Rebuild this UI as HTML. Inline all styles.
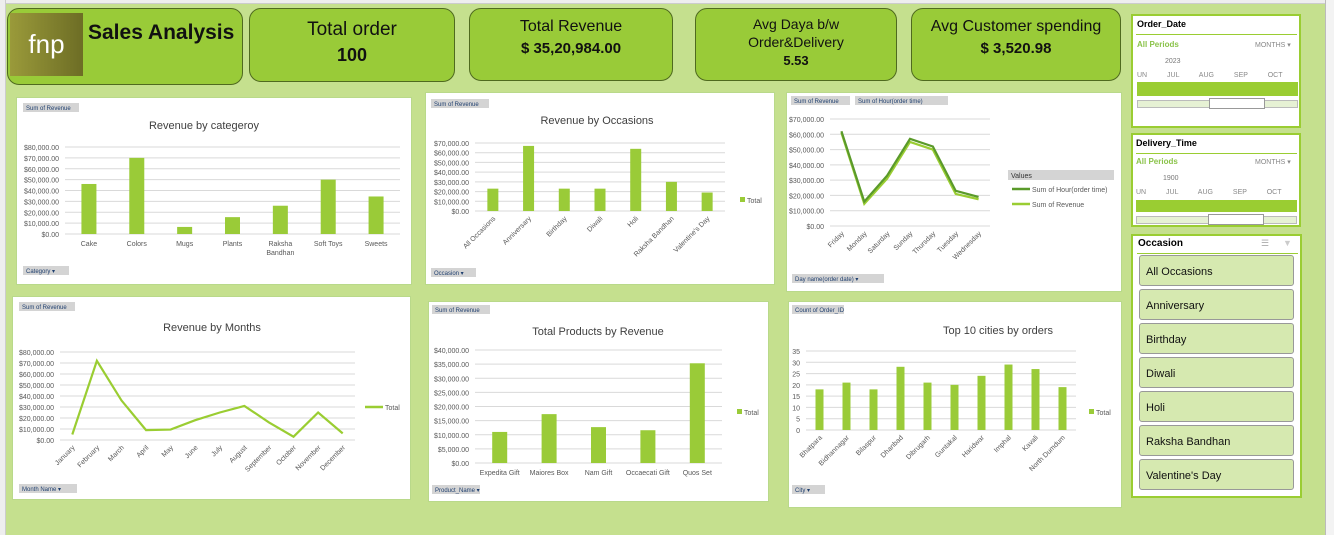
<!DOCTYPE html>
<html><head><meta charset="utf-8">
<style>
*{box-sizing:border-box;margin:0;padding:0}
body{width:1334px;height:535px;overflow:hidden;background:#c5e08e;font-family:"Liberation Sans",sans-serif;position:relative}
.card{position:absolute;background:#99cb38;border:1px solid #4f6a1f;border-radius:12px;text-align:center;color:#111}
.panel{position:absolute;background:#fff;border:1px solid #b9d98a}
.slicer{position:absolute;background:#fff;border:2px solid #9acd32}
.btn{position:absolute;left:6px;width:155px;height:31px;background:#d6e9b0;border:1px solid #999;border-radius:3px;font-size:11px;padding:10px 0 0 6px;color:#111}
</style></head><body>
<div style="position:absolute;left:0;top:0;width:1334px;height:4px;background:#eee;border-bottom:1px solid #ccc"></div>
<div style="position:absolute;left:0;top:0;width:6px;height:535px;background:#eee;border-right:1px solid #ccc"></div>
<div style="position:absolute;left:1325px;top:0;width:9px;height:535px;background:#f3f3f3;border-left:1px solid #bbb"></div>

<div class="card" style="left:7px;top:8px;width:236px;height:77px">
 <div style="position:absolute;left:2px;top:4px;width:73px;height:63px;background:linear-gradient(90deg,#9a9a3a,#6d6d25);color:#fff;font-size:26px;padding-top:16px">fnp</div>
 <div style="position:absolute;left:80px;top:12px;font-size:21px;font-weight:bold">Sales Analysis</div>
</div>
<div class="card" style="left:249px;top:8px;width:206px;height:74px"><div style="font-size:19px;margin-top:10px">Total order</div><div style="font-size:18px;font-weight:bold;margin-top:4px">100</div></div>
<div class="card" style="left:469px;top:8px;width:204px;height:73px"><div style="font-size:16px;margin-top:9px">Total Revenue</div><div style="font-size:15px;font-weight:bold;margin-top:4px">$ 35,20,984.00</div></div>
<div class="card" style="left:695px;top:8px;width:202px;height:73px"><div style="font-size:14px;margin-top:6px;line-height:18px">Avg Daya b/w<br>Order&amp;Delivery</div><div style="font-size:13px;font-weight:bold;margin-top:2px">5.53</div></div>
<div class="card" style="left:911px;top:8px;width:210px;height:73px"><div style="font-size:16px;margin-top:9px">Avg Customer spending</div><div style="font-size:15px;font-weight:bold;margin-top:4px">$ 3,520.98</div></div>

<div class="panel" style="left:16px;top:97px;width:396px;height:188px"></div>
<div class="panel" style="left:425px;top:92px;width:350px;height:193px"></div>
<div class="panel" style="left:786px;top:92px;width:336px;height:200px"></div>
<div class="panel" style="left:12px;top:296px;width:399px;height:204px"></div>
<div class="panel" style="left:428px;top:301px;width:341px;height:201px"></div>
<div class="panel" style="left:788px;top:301px;width:334px;height:207px"></div>

<div class="slicer" style="left:1131px;top:14px;width:170px;height:114px">
 <div style="position:absolute;left:4px;top:3px;font-size:9px;font-weight:bold">Order_Date</div>
 <div style="position:absolute;left:3px;top:18px;width:161px;border-top:1px solid #9acd32"></div>
 <div style="position:absolute;left:4px;top:24px;font-size:8px;color:#8bc34a;font-weight:bold">All Periods</div>
 <div style="position:absolute;left:122px;top:25px;font-size:7px;color:#888">MONTHS ▾</div>
 <div style="position:absolute;left:32px;top:42px;font-size:7px;color:#777">2023</div>
 <div style="position:absolute;left:4px;top:56px;font-size:7px;color:#888;word-spacing:18px">UN JUL AUG SEP OCT</div>
 <div style="position:absolute;left:4px;top:66px;width:161px;height:14px;background:#9acd32"></div>
 <div style="position:absolute;left:4px;top:84px;width:161px;height:8px;background:#e6f1d4;border:1px solid #bbb"></div>
 <div style="position:absolute;left:76px;top:82px;width:56px;height:11px;background:#fff;border:1px solid #999"></div>
</div>
<div class="slicer" style="left:1131px;top:133px;width:170px;height:94px">
 <div style="position:absolute;left:3px;top:3px;font-size:9px;font-weight:bold">Delivery_Time</div>
 <div style="position:absolute;left:3px;top:18px;width:161px;border-top:1px solid #9acd32"></div>
 <div style="position:absolute;left:3px;top:22px;font-size:8px;color:#8bc34a;font-weight:bold">All Periods</div>
 <div style="position:absolute;left:122px;top:23px;font-size:7px;color:#888">MONTHS ▾</div>
 <div style="position:absolute;left:30px;top:40px;font-size:7px;color:#777">1900</div>
 <div style="position:absolute;left:3px;top:54px;font-size:7px;color:#888;word-spacing:18px">UN JUL AUG SEP OCT</div>
 <div style="position:absolute;left:3px;top:65px;width:161px;height:12px;background:#9acd32"></div>
 <div style="position:absolute;left:3px;top:81px;width:161px;height:8px;background:#e6f1d4;border:1px solid #bbb"></div>
 <div style="position:absolute;left:75px;top:79px;width:56px;height:11px;background:#fff;border:1px solid #999"></div>
</div>
<div class="slicer" style="left:1131px;top:234px;width:171px;height:264px">
 <div style="position:absolute;left:5px;top:2px;font-size:10px;font-weight:bold">Occasion</div>
 <div style="position:absolute;left:128px;top:2px;font-size:9px;color:#aaa">☰</div>
 <div style="position:absolute;left:150px;top:2px;font-size:9px;color:#ccc">▼</div>
 <div style="position:absolute;left:4px;top:17px;width:161px;border-top:1px solid #9acd32"></div>
 <div class="btn" style="top:19px">All Occasions</div>
 <div class="btn" style="top:53px">Anniversary</div>
 <div class="btn" style="top:87px">Birthday</div>
 <div class="btn" style="top:121px">Diwali</div>
 <div class="btn" style="top:155px">Holi</div>
 <div class="btn" style="top:189px">Raksha Bandhan</div>
 <div class="btn" style="top:223px">Valentine's Day</div>
</div>

<svg id="charts" width="1334" height="535" style="position:absolute;left:0;top:0" font-family="Liberation Sans, sans-serif"></svg>

<script>
// Chart 1
const catLabels = ["Cake","Colors","Mugs","Plants","Raksha Bandhan","Soft Toys","Sweets"];
const catValues = [46000,70000,6500,15500,26000,50000,34500];
const catTicks = [0,10000,20000,30000,40000,50000,60000,70000,80000];
// Chart 2
const occLabels = ["All Occasions","Anniversary","Birthday","Diwali","Holi","Raksha Bandhan","Valentine's Day"];
const occValues = [23000,67000,23000,23000,64000,30000,19000];
const occTicks = [0,10000,20000,30000,40000,50000,60000,70000];
// Chart 3
const dayLabels = ["Friday","Monday","Saturday","Sunday","Thursday","Tuesday","Wednesday"];
const dayHour = [62000,16000,33000,57000,52000,23000,19000];
const dayRevenue = [61000,14500,31000,55000,50000,21000,17500];
const dayTicks = [0,10000,20000,30000,40000,50000,60000,70000];
// Chart 4
const monLabels = ["January","February","March","April","May","June","July","August","September","October","November","December"];
const monValues = [5000,72000,36000,9000,9500,18000,25000,31000,16000,3000,25000,6000];
const monTicks = [0,10000,20000,30000,40000,50000,60000,70000,80000];
// Chart 5
const prodLabels = ["Expedita Gift","Maiores Box","Nam Gift","Occaecati Gift","Quos Set"];
const prodValues = [11000,17300,12700,11600,35300];
const prodTicks = [0,5000,10000,15000,20000,25000,30000,35000,40000];
// Chart 6
const cityLabels = ["Bhatpara","Bidhannagar","Bilaspur","Dhanbad","Dibrugarh","Guntakal","Haridwar","Imphal","Kavali","North Dumdum"];
const cityValues = [18,21,18,28,21,20,24,29,27,19];
const cityTicks = [0,5,10,15,20,25,30,35];

const svg = document.getElementById('charts');
const NS = 'http://www.w3.org/2000/svg';
function mk(tag, attrs, parent){const e=document.createElementNS(NS,tag);for(const k in attrs)e.setAttribute(k,attrs[k]);(parent||svg).appendChild(e);return e;}
function money(v){return '$'+v.toLocaleString('en-US',{minimumFractionDigits:2,maximumFractionDigits:2});}

function frame(c, ticks, fmt){
  const max=ticks[ticks.length-1];
  const y=v=>c.y1-(v/max)*(c.y1-c.y0);
  ticks.forEach(t=>{
    const l=mk('line',{x1:c.x0,x2:c.x1,y1:y(t),y2:y(t),stroke:'#d9d9d9','stroke-width':1});
    
    
    const tx=mk('text',{x:c.x0-6,y:y(t)+3,'font-size':c.fs||7,'text-anchor':'end',fill:'#595959'});
    tx.textContent=fmt(t);
    
    
  });
  const tt=mk('text',{x:c.tx,y:c.ty,'font-size':11,'text-anchor':'middle',fill:'#404040'});
  tt.textContent=c.title;
  
  
  return y;
}
function xlabel(x,yy,txt,rot){
  const t=mk('text',{x:x,y:yy,'font-size':7,fill:'#595959','text-anchor':rot?'end':'middle',transform:rot?`rotate(-45 ${x} ${yy})`:''});
  t.textContent=txt;
  
  
}
function bars(c, labels, values, ticks, fmt, rot){
  const y=frame(c,ticks,fmt);
  const step=(c.x1-c.x0)/labels.length;
  labels.forEach((lab,i)=>{
    const cx=c.x0+step*(i+0.5);
    const r=mk('rect',{x:cx-c.bw/2,y:y(values[i]),width:c.bw,height:c.y1-y(values[i]),fill:'#9acb38'});
    
    
    if(c.wrap && lab.length>10 && !rot){const p=lab.split(' ');xlabel(cx,c.y1+12,p[0]);xlabel(cx,c.y1+21,p.slice(1).join(' '));}
    else xlabel(rot?cx+3:cx,c.y1+(rot?8:12),lab,rot);
  });
}
function lineSeries(c, labels, values, y, color, name){
  const step=(c.x1-c.x0)/labels.length;
  const pts=values.map((v,i)=>(c.x0+step*(i+0.5))+','+y(v)).join(' ');
  const p=mk('polyline',{points:pts,fill:'none',stroke:color,'stroke-width':2.2});
  
  
}
function legend(x,y,txt,color,isLine){
  if(isLine) mk('line',{x1:x,x2:x+18,y1:y-3,y2:y-3,stroke:color,'stroke-width':2.5});
  else mk('rect',{x:x,y:y-6,width:5,height:5,fill:color});
  const t=mk('text',{x:x+(isLine?20:7),y:y,'font-size':7,fill:'#595959'});
  t.textContent=txt;
  
  
}
function tag(x,y,w,txt){
  const g=mk('g',{});
  
  
  mk('rect',{x:x,y:y,width:w,height:9,fill:'#d4d4d4'},g);
  const t=mk('text',{x:x+3,y:y+7,'font-size':6,fill:'#1f3f6f'},g);t.textContent=txt;
}

// Chart 1
bars({x0:65,x1:400,y0:147,y1:234,bw:15,title:'Revenue by categeroy',tx:204,ty:129,wrap:true},catLabels,catValues,catTicks,money,false);
tag(23,103,56,'Sum of Revenue'); tag(23,266,46,'Category ▾');
// Chart 2
bars({x0:475,x1:725,y0:143,y1:211,bw:11,title:'Revenue by  Occasions',tx:597,ty:124},occLabels,occValues,occTicks,money,true);
legend(740,203,'Total','#9acb38',false);
tag(431,99,58,'Sum of Revenue'); tag(431,268,45,'Occasion ▾');
// Chart 3
(function(){
  const c={x0:830,x1:990,y0:119,y1:226,fs:7,title:'',tx:0,ty:0};
  const y=frame(c,dayTicks,money);
  lineSeries(c,dayLabels,dayRevenue,y,'#9acd32','line-sum-of-revenue');
  lineSeries(c,dayLabels,dayHour,y,'#5a9a2a','line-sum-of-hour');
  const step=(c.x1-c.x0)/dayLabels.length;
  dayLabels.forEach((l,i)=>xlabel(c.x0+step*(i+0.5)+3,c.y1+8,l,true));
  mk('rect',{x:1008,y:170,width:106,height:10,fill:'#d4d4d4'});
  const v=mk('text',{x:1011,y:178,'font-size':7,fill:'#333'});v.textContent='Values';
  legend(1012,192,'Sum of Hour(order time)','#5a9a2a',true);
  legend(1012,207,'Sum of Revenue','#9acd32',true);
  tag(791,96,59,'Sum of Revenue'); tag(855,96,93,'Sum of Hour(order time)'); tag(792,274,92,'Day name(order date)   ▾');
})();
// Chart 4
(function(){
  const c={x0:60,x1:355,y0:352,y1:440,title:'Revenue by Months',tx:212,ty:331};
  const y=frame(c,monTicks,money);
  lineSeries(c,monLabels,monValues,y,'#9acd32','line-revenue-by-month');
  const step=(c.x1-c.x0)/monLabels.length;
  monLabels.forEach((l,i)=>xlabel(c.x0+step*(i+0.5)+3,c.y1+8,l,true));
  legend(365,410,'Total','#9acd32',true);
  tag(19,302,56,'Sum of Revenue'); tag(19,484,58,'Month Name ▾');
})();
// Chart 5
bars({x0:475,x1:722,y0:350,y1:463,bw:15,title:'Total Products by Revenue',tx:598,ty:335},prodLabels,prodValues,prodTicks,money,false);
legend(737,415,'Total','#9acb38',false);
tag(432,305,58,'Sum of Revenue'); tag(432,485,48,'Product_Name ▾');
// Chart 6
bars({x0:806,x1:1076,y0:351,y1:430,bw:8,title:'Top 10 cities by orders',tx:998,ty:334},cityLabels,cityValues,cityTicks,v=>String(v),true);
legend(1089,415,'Total','#9acb38',false);
tag(792,305,52,'Count of Order_ID'); tag(792,485,33,'City ▾');
</script>
</body></html>
